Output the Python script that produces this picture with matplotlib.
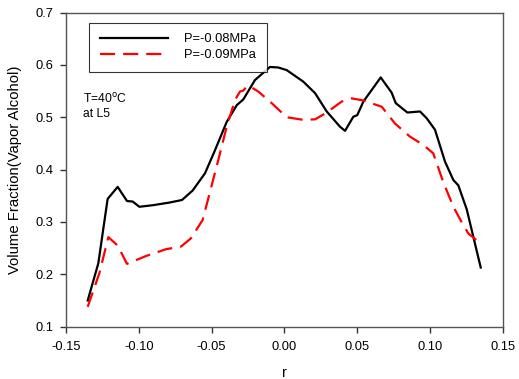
import matplotlib
matplotlib.use("Agg")
import matplotlib.pyplot as plt

plt.rcParams['font.family'] = ['Liberation Sans', 'DejaVu Sans']
plt.rcParams['font.size'] = 9.3

# P = -0.08 MPa
r_08 = [-0.1351, -0.1278, -0.1214, -0.1145, -0.1081, -0.1042, -0.0996, -0.0904,
        -0.0790, -0.0703, -0.0630, -0.0545, -0.0481, -0.0396, -0.0327, -0.0282,
        -0.0202, -0.0099, -0.0042, 0.0016, 0.0130, 0.0211, 0.0291, 0.0382,
        0.0417, 0.0474, 0.0501, 0.0543, 0.0662, 0.0737, 0.0765, 0.0845,
        0.0932, 0.0978, 0.1035, 0.1104, 0.1161, 0.1195, 0.1253, 0.1349]
vf_08 = [0.150, 0.221, 0.344, 0.367, 0.340, 0.339, 0.329, 0.332,
         0.337, 0.342, 0.360, 0.393, 0.434, 0.491, 0.523, 0.534,
         0.571, 0.596, 0.595, 0.590, 0.568, 0.546, 0.511, 0.482,
         0.474, 0.501, 0.504, 0.530, 0.576, 0.547, 0.527, 0.509,
         0.511, 0.498, 0.476, 0.415, 0.380, 0.370, 0.324, 0.213]

# P = -0.09 MPa
r_09 = [-0.1351, -0.1271, -0.1209, -0.1145, -0.1081, -0.0950, -0.0813, -0.0710,
        -0.0641, -0.0561, -0.0454, -0.0396, -0.0339, -0.0305, -0.0282, -0.0254,
        -0.0225, -0.0179, -0.0099, 0.0016, 0.0130, 0.0211, 0.0291, 0.0394,
        0.0463, 0.0543, 0.0669, 0.0760, 0.0863, 0.0955, 0.1023, 0.1092,
        0.1161, 0.1229, 0.1264, 0.1326]
vf_09 = [0.138, 0.202, 0.271, 0.255, 0.220, 0.235, 0.248, 0.253,
         0.269, 0.304, 0.418, 0.482, 0.533, 0.549, 0.551, 0.560,
         0.557, 0.549, 0.530, 0.500, 0.495, 0.496, 0.509, 0.530,
         0.536, 0.532, 0.520, 0.488, 0.463, 0.447, 0.431, 0.376,
         0.329, 0.294, 0.278, 0.264]

fig = plt.figure(figsize=(5.19, 3.79), dpi=100)
ax = fig.add_axes([66 / 519, 1 - 326.7 / 379, (502.7 - 66) / 519, (326.7 - 12.5) / 379])

ax.plot(r_08, vf_08, color='black', lw=1.6, label='P=-0.08MPa')
ax.plot(r_09, vf_09, color='red', lw=1.6, dashes=(6.8, 3.6), label='P=-0.09MPa')

ax.set_xlim(-0.15, 0.15)
ax.set_ylim(0.1, 0.7)
ax.set_xticks([-0.15, -0.10, -0.05, 0.00, 0.05, 0.10, 0.15])
ax.set_xticklabels(['-0.15', '-0.10', '-0.05', '0.00', '0.05', '0.10', '0.15'])
ax.set_yticks([0.1, 0.2, 0.3, 0.4, 0.5, 0.6, 0.7])
ax.tick_params(direction='out', length=4, width=1, colors='#333333', labelcolor='black')
ax.tick_params(axis='x', pad=6)
ax.tick_params(axis='y', pad=5)
for side in ax.spines.values():
    side.set_color('#555555')
    side.set_linewidth(1)

ax.set_xlabel('r', fontsize=10.5, labelpad=10)
ax.set_ylabel('Volume Fraction(Vapor Alcohol)', fontsize=10.7, labelpad=10)

leg = ax.legend(loc='upper left', bbox_to_anchor=(0.0535, 0.9666), borderaxespad=0,
                frameon=True, fancybox=False, edgecolor='black', fontsize=9.3,
                handlelength=5.3, handletextpad=1.25, borderpad=0.8, labelspacing=0.3)
leg.get_frame().set_linewidth(0.8)

ax.text(0.04, 0.748, 'T=40$^{\\mathrm{o}}$C\nat L5', transform=ax.transAxes,
        fontsize=8.7, va='top', linespacing=1.25)

fig.savefig('out.png', dpi=100)
